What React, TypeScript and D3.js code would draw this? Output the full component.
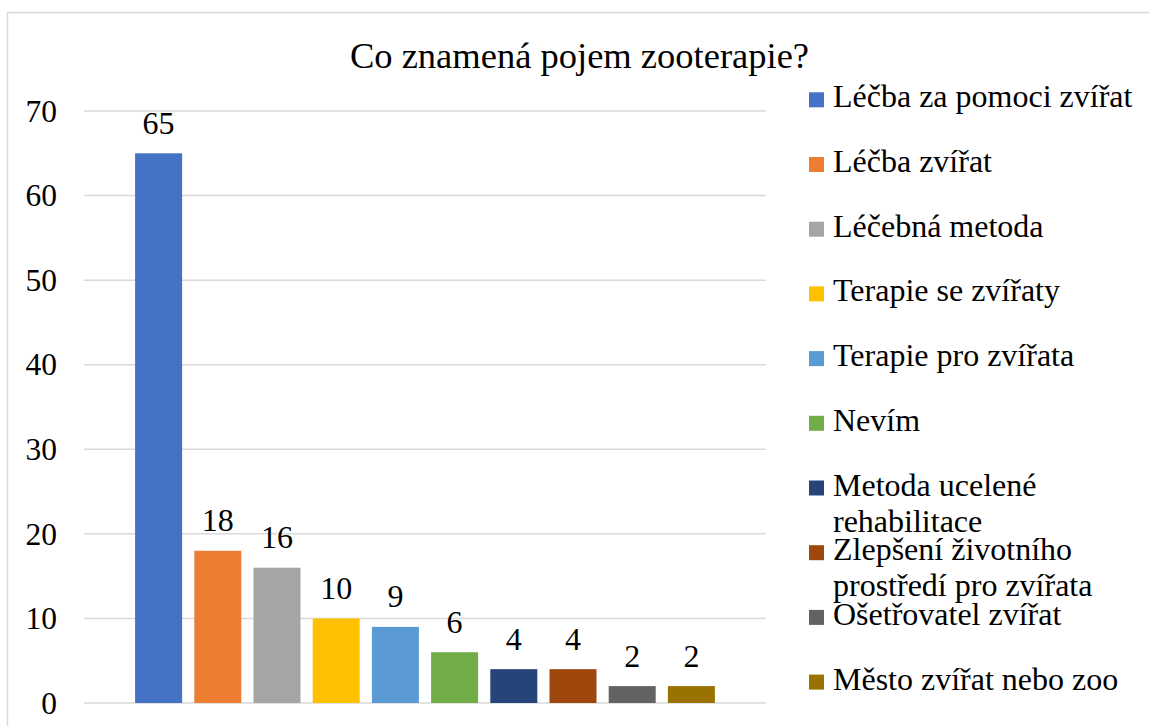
import React from 'react';
import * as d3 from 'd3';

const title = 'Co znamená pojem zooterapie?';

const answers = [
  'Léčba za pomoci zvířat',
  'Léčba zvířat',
  'Léčebná metoda',
  'Terapie se zvířaty',
  'Terapie pro zvířata',
  'Nevím',
  'Metoda ucelené rehabilitace',
  'Zlepšení životního prostředí pro zvířata',
  'Ošetřovatel zvířat',
  'Město zvířat nebo zoo',
];

// legend text broken into lines as in the original
const legendLines = [
  ['Léčba za pomoci zvířat'],
  ['Léčba zvířat'],
  ['Léčebná metoda'],
  ['Terapie se zvířaty'],
  ['Terapie pro zvířata'],
  ['Nevím'],
  ['Metoda ucelené', 'rehabilitace'],
  ['Zlepšení životního', 'prostředí pro zvířata'],
  ['Ošetřovatel zvířat'],
  ['Město zvířat nebo zoo'],
];

const counts = [65, 18, 16, 10, 9, 6, 4, 4, 2, 2];

const yTicks = [0, 10, 20, 30, 40, 50, 60, 70];

const colors = [
  '#4472C4', '#ED7D31', '#A5A5A5', '#FFC000', '#5B9BD5',
  '#70AD47', '#264478', '#9E480E', '#636363', '#997300',
];

const W = 1149, H = 726;
const font = 'Liberation Serif, Tinos, DejaVu Serif, Noto Serif, serif';

export default function App() {
  const y = d3.scaleLinear().domain([0, 70]).range([703, 111]);
  const x = d3.scaleBand<string>()
    .domain(answers)
    .range([84, 766])
    .paddingInner(0.206)
    .paddingOuter(0.863);
  const color = d3.scaleOrdinal<string, string>().domain(answers).range(colors);
  const legendY = d3.scaleLinear().domain([0, 9]).range([107.3, 689.6]);

  return (
    <svg width={W} height={H} style={{ position: 'absolute', left: 0, top: 0, background: '#fff', fontFamily: font }}>
      <rect x={7.5} y={12.5} width={W + 10} height={H + 10} fill="#fff" stroke="#d9d9d9" strokeWidth={1.5} />
      <text x={579.5} y={68} textAnchor="middle" fontSize={36.5} fill="#000">{title}</text>

      {yTicks.map(t => (
        <g key={t}>
          <line x1={84} x2={766} y1={y(t)} y2={y(t)} stroke="#d9d9d9" strokeWidth={1.5} />
          <text x={57} y={y(t) + 10.7} textAnchor="end" fontSize={31.5} fill="#000">{t}</text>
        </g>
      ))}

      {answers.map((a, i) => (
        <g key={a}>
          <rect x={x(a)} y={y(counts[i])} width={x.bandwidth()} height={y(0) - y(counts[i])} fill={color(a)} />
          <text x={(x(a) as number) + x.bandwidth() / 2} y={y(counts[i]) - 19.5}
            textAnchor="middle" fontSize={32} fill="#000">{counts[i]}</text>
        </g>
      ))}

      {answers.map((a, i) => (
        <g key={'lg' + a}>
          <rect x={809} y={legendY(i) - 15} width={15} height={15} fill={color(a)} />
          {legendLines[i].map((ln, j) => (
            <text key={j} x={833} y={legendY(i) + j * 36} fontSize={32} fill="#000">{ln}</text>
          ))}
        </g>
      ))}
    </svg>
  );
}
